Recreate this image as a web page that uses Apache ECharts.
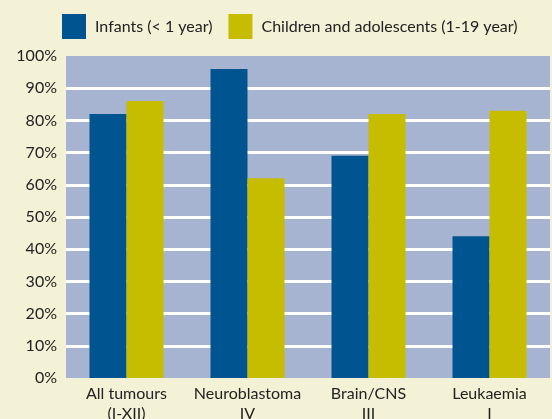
<!DOCTYPE html>
<html>
<head>
<meta charset="utf-8">
<script src="https://cdn.jsdelivr.net/npm/echarts@6/dist/echarts.min.js"></script>
<style>
  html, body { margin: 0; padding: 0; background: #f3f1d6; }
  #chart { width: 552px; height: 419px; }
</style>
</head>
<body>
<div id="chart"></div>
<script>
// Survival share by tumour group
const categories = ['All tumours\n(I-XII)', 'Neuroblastoma\nIV', 'Brain/CNS\nIII', 'Leukaemia\nI'];
const infants = [82, 96, 69, 44];
const children = [86, 62, 82, 83];
const seriesNames = ['Infants (< 1 year)', 'Children and adolescents (1-19 year)'];

const FONT = 'Lato';
const chart = echarts.init(document.getElementById('chart'), null, { renderer: 'canvas' });

chart.setOption({
  backgroundColor: '#f3f1d6',
  animation: false,
  textStyle: { fontFamily: FONT },
  legend: {
    left: 62,
    top: 14,
    padding: 0,
    itemWidth: 24,
    itemHeight: 25,
    itemGap: 16,
    icon: 'rect',
    textStyle: { fontFamily: FONT, fontSize: 16, color: '#222', padding: [0, 0, 0, 4] },
    data: seriesNames
  },
  grid: {
    left: 66, right: 2, top: 56, bottom: 41,
    outerBoundsMode: 'none',
    containLabel: false,
    show: true,
    backgroundColor: '#a6b3d1',
    borderWidth: 0
  },
  xAxis: {
    type: 'category',
    data: categories,
    axisLine: { show: false },
    axisTick: { show: false },
    axisLabel: {
      interval: 0,
      fontFamily: FONT, fontSize: 16, color: '#222',
      lineHeight: 20, margin: 6
    }
  },
  yAxis: {
    type: 'value',
    min: 0, max: 100, interval: 10,
    axisLine: { show: false },
    axisTick: { show: false },
    axisLabel: {
      formatter: '{value}%',
      fontFamily: FONT, fontSize: 16, color: '#222', margin: 9
    },
    splitLine: {
      show: true,
      showMinLine: false,
      showMaxLine: false,
      lineStyle: { color: '#ffffff', width: 3 }
    }
  },
  series: [
    {
      name: seriesNames[0], type: 'bar', data: infants,
      barWidth: 37, barGap: '0%',
      itemStyle: { color: '#00548f' }
    },
    {
      name: seriesNames[1], type: 'bar', data: children,
      barWidth: 37, barGap: '0%',
      itemStyle: { color: '#c6bd00' }
    }
  ]
});
</script>
</body>
</html>
